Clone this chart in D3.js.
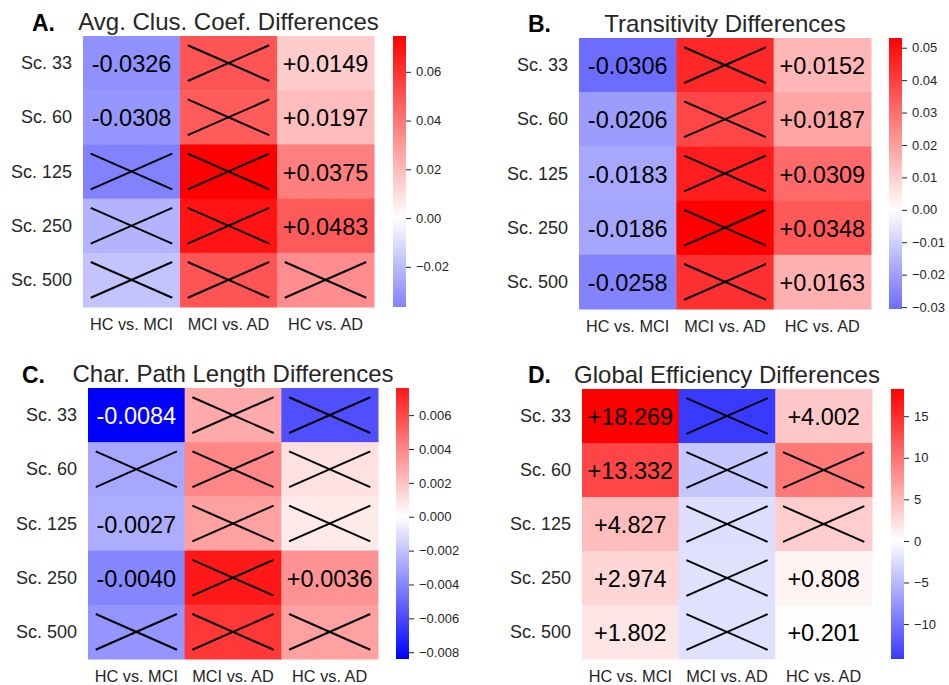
<!DOCTYPE html>
<html>
<head>
<meta charset="utf-8">
<script src="https://cdn.jsdelivr.net/npm/d3@7"></script>
<style>
body { margin: 0; background: #fff; }
text { font-family: "Liberation Sans", Arial, sans-serif; }
</style>
</head>
<body>
<script>
// whole figure is 949 x 685
var width = 949,
	height = 685;

// shared labels
var rowLabels = ["Sc. 33", "Sc. 60", "Sc. 125", "Sc. 250", "Sc. 500"];
var colLabels = ["HC vs. MCI", "MCI vs. AD", "HC vs. AD"];

// panel A: avg clustering coefficient (rows = scales, cols = comparisons)
var clusValues = [
	[-0.0326, 0.0500, 0.0149],
	[-0.0308, 0.0480, 0.0197],
	[-0.0365, 0.0747, 0.0375],
	[-0.0222, 0.0690, 0.0483],
	[-0.0175, 0.0500, 0.0335]
];
// 1 = significant (value printed), 0 = crossed out
var clusSig = [
	[1, 0, 1],
	[1, 0, 1],
	[0, 0, 1],
	[0, 0, 1],
	[0, 0, 0]
];
var clusTicks = [-0.02, 0, 0.02, 0.04, 0.06];

// panel B: transitivity
var transValues = [
	[-0.0306, 0.0447, 0.0152],
	[-0.0206, 0.0385, 0.0187],
	[-0.0183, 0.0470, 0.0309],
	[-0.0186, 0.0530, 0.0348],
	[-0.0258, 0.0430, 0.0163]
];
var transSig = [
	[1, 0, 1],
	[1, 0, 1],
	[1, 0, 1],
	[1, 0, 1],
	[1, 0, 1]
];
var transTicks = [-0.03, -0.02, -0.01, 0, 0.01, 0.02, 0.03, 0.04, 0.05];

// panel C: characteristic path length
var pathValues = [
	[-0.0084, 0.0028, -0.0058],
	[-0.0029, 0.0040, 0.0010],
	[-0.0027, 0.0031, 0.0007],
	[-0.0040, 0.0076, 0.0036],
	[-0.0035, 0.0066, 0.0031]
];
var pathSig = [
	[1, 0, 0],
	[0, 0, 0],
	[1, 0, 0],
	[1, 0, 1],
	[0, 0, 0]
];
var pathTicks = [-0.008, -0.006, -0.004, -0.002, 0, 0.002, 0.004, 0.006];

// panel D: global efficiency
var effValues = [
	[18.269, -14.2, 4.002],
	[13.332, -4.0, 9.7],
	[4.827, -2.4, 3.6],
	[2.974, -2.2, 0.808],
	[1.802, -2.2, 0.201]
];
var effSig = [
	[1, 0, 1],
	[1, 0, 0],
	[1, 0, 0],
	[1, 0, 1],
	[1, 0, 1]
];
var effTicks = [-10, -5, 0, 5, 10, 15];

// panel layout (heatmap box, colorbar x, panel letter)
var panels = [
	{ letter: "A.", title: "Avg. Clus. Coef. Differences", values: clusValues, sig: clusSig,
	  ticks: clusTicks, tickFmt: d3.format(".2f"), annFmt: "+.4f",
	  x0: 83, x1: 374, y0: 36, y1: 307, cb: 393, lx: 32, ly: 31 },
	{ letter: "B.", title: "Transitivity Differences", values: transValues, sig: transSig,
	  ticks: transTicks, tickFmt: d3.format(".2f"), annFmt: "+.4f",
	  x0: 579, x1: 871, y0: 38, y1: 309, cb: 889, lx: 528, ly: 32 },
	{ letter: "C.", title: "Char. Path Length Differences", values: pathValues, sig: pathSig,
	  ticks: pathTicks, tickFmt: d3.format(".3f"), annFmt: "+.4f",
	  x0: 88, x1: 378, y0: 388, y1: 659, cb: 396, lx: 22, ly: 383 },
	{ letter: "D.", title: "Global Efficiency Differences", values: effValues, sig: effSig,
	  ticks: effTicks, tickFmt: d3.format("d"), annFmt: "+.3f",
	  x0: 582, x1: 872, y0: 389, y1: 659, cb: 891, lx: 528, ly: 383 }
];

var svg = d3.select("body")
	.append("svg")
	.attr("width", width)
	.attr("height", height);

var defs = svg.append("defs");

panels.forEach(function(p, i) {
	var g = svg.append("g");

	// flatten to get data range, seaborn style center=0 colormap
	var flat = [].concat.apply([], p.values);
	var vmin = d3.min(flat),
		vmax = d3.max(flat),
		vr = Math.max(Math.abs(vmin), Math.abs(vmax));

	var color = d3.scaleLinear()
		.domain([-vr, 0, vr])
		.range(["#0000ff", "#ffffff", "#ff0000"]);

	var x = d3.scaleBand().domain(colLabels).range([p.x0, p.x1]);
	var y = d3.scaleBand().domain(rowLabels).range([p.y0, p.y1]);

	// cells
	var cells = [];
	p.values.forEach(function(row, r) {
		row.forEach(function(v, c) {
			cells.push({ row: rowLabels[r], col: colLabels[c], v: v, sig: p.sig[r][c] });
		});
	});

	g.selectAll("rect.cell")
		.data(cells)
		.enter().append("rect")
		.attr("class", "cell")
		.attr("x", function(d) { return x(d.col); })
		.attr("y", function(d) { return y(d.row); })
		.attr("width", x.bandwidth() + 0.5)
		.attr("height", y.bandwidth() + 0.5)
		.attr("fill", function(d) { return color(d.v); });

	// printed values for significant cells
	var fmt = d3.format(p.annFmt);
	g.selectAll("text.ann")
		.data(cells.filter(function(d) { return d.sig; }))
		.enter().append("text")
		.attr("class", "ann")
		.attr("x", function(d) { return x(d.col) + x.bandwidth() / 2; })
		.attr("y", function(d) { return y(d.row) + y.bandwidth() / 2 + 1; })
		.attr("text-anchor", "middle")
		.attr("dominant-baseline", "central")
		.attr("font-size", 23.5)
		.attr("fill", function(d) {
			var c = d3.rgb(color(d.v));
			var lum = 0.2126 * c.r + 0.7152 * c.g + 0.0722 * c.b;
			return lum < 40 ? "#ffffff" : "#000000";
		})
		.text(function(d) { return fmt(d.v).replace("\u2212", "-"); });

	// crosses for non significant cells
	var crossed = cells.filter(function(d) { return !d.sig; });
	var ix = 0.08, iy = 0.17;
	["a", "b"].forEach(function(k) {
		g.selectAll("line.x" + k)
			.data(crossed)
			.enter().append("line")
			.attr("x1", function(d) { return x(d.col) + x.bandwidth() * ix; })
			.attr("x2", function(d) { return x(d.col) + x.bandwidth() * (1 - ix); })
			.attr("y1", function(d) { return y(d.row) + y.bandwidth() * (k == "a" ? iy : 1 - iy); })
			.attr("y2", function(d) { return y(d.row) + y.bandwidth() * (k == "a" ? 1 - iy : iy); })
			.attr("stroke", "#000")
			.attr("stroke-width", 2);
	});

	// row labels
	g.selectAll("text.row")
		.data(rowLabels)
		.enter().append("text")
		.attr("x", p.x0 - 11)
		.attr("y", function(d) { return y(d) + y.bandwidth() / 2; })
		.attr("text-anchor", "end")
		.attr("dominant-baseline", "central")
		.attr("font-size", 18)
		.attr("fill", "#262626")
		.text(function(d) { return d; });

	// column labels
	g.selectAll("text.col")
		.data(colLabels)
		.enter().append("text")
		.attr("x", function(d) { return x(d) + x.bandwidth() / 2; })
		.attr("y", p.y1 + 23)
		.attr("text-anchor", "middle")
		.attr("font-size", 16.3)
		.attr("fill", "#262626")
		.text(function(d) { return d; });

	// title centred over heatmap, letter on the left
	g.append("text")
		.attr("x", (p.x0 + p.x1) / 2)
		.attr("y", p.y0 - 6)
		.attr("text-anchor", "middle")
		.attr("font-size", 24)
		.attr("fill", "#262626")
		.text(p.title);

	g.append("text")
		.attr("x", p.lx)
		.attr("y", p.ly)
		.attr("font-size", 23)
		.attr("font-weight", "bold")
		.attr("fill", "#000")
		.text(p.letter);

	// colorbar
	var cy = d3.scaleLinear().domain([vmin, vmax]).range([p.y1, p.y0]);
	var gid = "grad" + i;
	var grad = defs.append("linearGradient")
		.attr("id", gid)
		.attr("x1", 0).attr("y1", 1)
		.attr("x2", 0).attr("y2", 0);
	[vmin, 0, vmax].forEach(function(v) {
		grad.append("stop")
			.attr("offset", (v - vmin) / (vmax - vmin))
			.attr("stop-color", color(v));
	});

	g.append("rect")
		.attr("x", p.cb)
		.attr("y", p.y0)
		.attr("width", 13)
		.attr("height", p.y1 - p.y0)
		.attr("fill", "url(#" + gid + ")");

	var axis = g.append("g")
		.attr("transform", "translate(" + (p.cb + 13) + ",0)")
		.call(d3.axisRight(cy)
			.tickValues(p.ticks)
			.tickSize(5)
			.tickPadding(5)
			.tickFormat(p.tickFmt));
	axis.select(".domain").remove();
	axis.selectAll("line").attr("stroke", "#262626");
	axis.selectAll("text")
		.attr("font-size", 13)
		.attr("fill", "#262626")
		.style("font-family", "'Liberation Sans', Arial, sans-serif");
});
</script>
</body>
</html>
